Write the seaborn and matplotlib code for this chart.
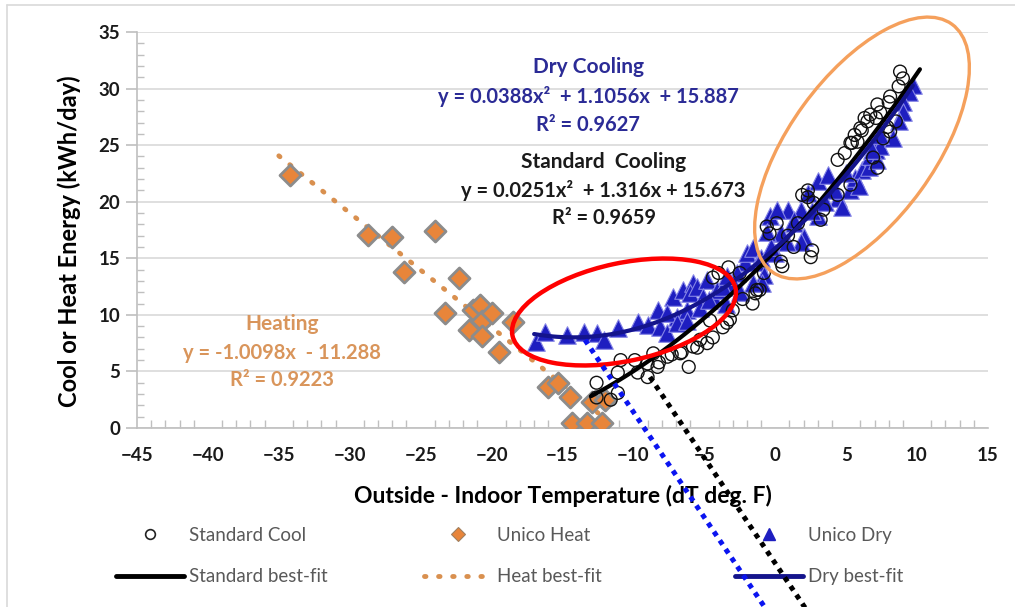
import numpy as np
import pandas as pd
import matplotlib
matplotlib.use("Agg")
import matplotlib.pyplot as plt
import seaborn as sns
from matplotlib.lines import Line2D
from matplotlib.patches import Ellipse
from matplotlib.transforms import Affine2D

# ---------------- data ----------------
heat_x = [-34.2, -28.7, -27.0, -26.2, -24.0, -23.3, -22.3, -21.6, -21.3, -20.8, -20.7, -20.7,
          -20.0, -19.5, -18.5, -16.0, -15.3, -14.5, -12.9, -12.0, -14.3, -13.3, -12.2]
heat_y = [22.4, 17.1, 16.9, 13.8, 17.4, 10.2, 13.3, 8.7, 10.4, 10.9, 9.5, 8.1,
          10.2, 6.7, 9.4, 3.6, 4.0, 2.7, 2.3, 2.5, 0.4, 0.4, 0.4]

cool_x = [-12.6, -11.6, -12.6, -11.1, -11.1, -10.9, -9.9, -9.7, -9.0, -9.0, -8.6, -8.2, -8.3,
          -7.6, -7.3, -6.7, -6.6, -6.1, -5.8, -5.5, -5.3, -4.8, -4.4, -4.6, -3.7, -3.2, -3.0,
          -3.4, -2.3, -1.4, -1.3, -0.8, -1.6, -1.1, -4.4, -4.0, -3.3, -2.5, -0.6, -0.4, 0.1,
          0.4, 0.5, 0.9, 1.3, 2.3, 2.6, 2.5, 2.7, 1.9, 2.3, 3.4, 4.4, 4.9, 5.4, 5.8, 6.1, 6.5,
          7.1, 7.4, 7.2, 6.9, 7.9, 4.4, 5.3, 3.2, 1.6, 8.8, 9.0, 8.7, 8.1, 8.0, 7.2, 6.7, 6.3,
          6.0, 5.6, 5.3, 8.5, 8.1, 7.6]
cool_y = [2.7, 2.5, 4.0, 3.1, 4.9, 6.0, 6.0, 4.9, 4.5, 5.7, 6.6, 5.8, 5.4,
          6.3, 6.5, 6.6, 6.7, 5.4, 7.2, 7.1, 7.8, 7.5, 8.0, 9.5, 8.9, 9.6, 10.4,
          9.3, 11.4, 11.9, 12.2, 13.7, 11.0, 12.2, 13.3, 13.7, 14.2, 13.7, 17.8, 17.2, 18.1,
          14.7, 14.3, 17.0, 16.0, 20.4, 15.7, 15.1, 19.9, 20.6, 21.0, 19.3, 23.7, 24.3, 25.2, 25.3, 26.3, 27.1,
          27.4, 27.9, 23.0, 23.9, 26.6, 20.6, 21.5, 18.4, 18.1, 31.5, 30.9, 30.2, 29.3, 28.8, 28.6, 27.7, 27.4,
          26.5, 25.9, 25.2, 27.1, 26.2, 25.6]

dry_x = [-16.9, -16.2, -14.7, -13.5, -12.6, -12.1, -11.1, -9.7, -9.0, -8.3, -8.1, -7.6, -7.2, -6.9,
         -6.5, -6.2, -5.8, -7.6, -6.9, -6.2, -6.0, -5.5, -4.8, -4.4, -4.1, -5.1, -5.3, -4.7, -2.1,
         -2.7, -3.0, -3.7, -3.4, -2.0, -1.6, -1.2, -0.8, -0.9, -1.6, 0.9, 1.3, 2.0, 1.8, 0.8, 0.4,
         2.3, -0.4, 0.1, -0.6, -2.5, -3.5, -1.0, 0.0, -0.3, 3.0, 3.7, 4.4, 4.7, 5.3, 5.6, 6.1,
         6.6, 6.7, 7.1, 7.2, 7.4, 3.0, 1.8, 1.3, 9.7, 9.4, 9.0, 9.0, 8.7, 8.3, 7.4, 6.8, 4.2,
         5.0, 3.5, 2.6, 5.9]
dry_y = [7.6, 8.5, 8.2, 8.5, 8.4, 7.8, 8.8, 9.4, 9.1, 10.4, 8.9, 8.4, 11.6, 9.8,
         12.2, 10.4, 12.8, 10.2, 9.3, 9.5, 11.9, 12.5, 13.1, 11.6, 12.2, 11.6, 10.6, 11.3, 14.7,
         13.7, 12.8, 12.5, 13.4, 15.5, 15.9, 14.7, 13.5, 12.8, 12.8, 19.3, 18.1, 16.9, 16.4, 16.4, 17.2,
         20.8, 18.7, 19.3, 17.3, 12.0, 11.0, 15.0, 15.5, 16.0, 21.8, 22.4, 20.3, 19.5, 21.0, 22.1, 22.8,
         23.1, 24.0, 24.6, 23.7, 24.9, 18.7, 19.3, 18.4, 30.3, 29.7, 28.8, 27.9, 27.1, 25.6, 25.9, 24.6, 21.0,
         22.5, 20.0, 19.2, 21.4]

# best-fit coefficients printed on the chart
std_coef = [0.0251, 1.316, 15.673]      # quadratic
dry_coef = [0.0388, 1.1056, 15.887]     # quadratic
heat_coef = [-1.0098, -11.288]          # linear
std_range = [-13.0, 10.2]
dry_range = [-17.0, 9.7]
heat_range = [-35.0, -12.5]

x_ticks = [-45, -40, -35, -30, -25, -20, -15, -10, -5, 0, 5, 10, 15]
y_ticks = [0, 5, 10, 15, 20, 25, 30, 35]

# ---------------- figure ----------------
W, H = 1015, 607
sns.set_theme(style="white")
plt.rcParams['font.family'] = ['Lato', 'DejaVu Sans']

fig = plt.figure(figsize=(W / 100, H / 100), dpi=100)
fig.patch.set_facecolor("white")
ax = fig.add_axes([137 / W, 1 - 428 / H, (988 - 137) / W, (428 - 32) / H])

ax.set_xlim(-45, 15)
ax.set_ylim(0, 35)
ax.set_xticks(x_ticks)
ax.set_yticks(y_ticks)
ax.set_xticks(np.arange(-45, 16, 1), minor=True)
ax.set_yticks(np.arange(0, 36, 1), minor=True)
ax.grid(axis="y", which="major", color="#D9D9D9", lw=1.2)
ax.grid(axis="x", visible=False)
ax.set_axisbelow(True)
for s in ["top", "right"]:
    ax.spines[s].set_visible(False)
for s in ["left", "bottom"]:
    ax.spines[s].set_color("#BFBFBF")
    ax.spines[s].set_linewidth(1.2)
ax.tick_params(axis="x", which="major", direction="inout", length=14, width=1.2, color="#BFBFBF",
               labelsize=13.5, pad=7)
ax.tick_params(axis="x", which="minor", direction="in", length=6, width=1, color="#BFBFBF", bottom=True)
ax.tick_params(axis="y", which="major", direction="out", length=8, width=1.2, color="#BFBFBF",
               labelsize=13.5, pad=4, left=True)
ax.tick_params(axis="y", which="minor", direction="in", length=5, width=1, color="#BFBFBF", left=True)
for lab in ax.get_xticklabels() + ax.get_yticklabels():
    lab.set_fontweight("bold")
    lab.set_color("#1a1a1a")

ax.set_xlabel("Outside - Indoor Temperature (dT deg. F)", fontsize=16.5, fontweight="bold",
              color="black", labelpad=15)
ax.set_ylabel("Cool or Heat Energy (kWh/day)", fontsize=17, fontweight="bold", color="black")
ax.yaxis.set_label_coords(-0.066, 0.472)

# ---------------- points ----------------
sns.scatterplot(x=dry_x, y=dry_y, marker="^", s=160, color="#1E1EC0", edgecolor="#8585E6",
                linewidth=0.8, ax=ax, legend=False, zorder=3)
sns.scatterplot(x=cool_x, y=cool_y, marker="o", s=85, facecolor="none", edgecolor="#111111",
                linewidth=1.0, ax=ax, legend=False, zorder=4)
sns.scatterplot(x=heat_x, y=heat_y, marker="D", s=115, color="#E8853A", edgecolor="#8C8C8C",
                linewidth=2.0, ax=ax, legend=False, zorder=3)

# ---------------- best-fit lines ----------------
xs_std = np.linspace(std_range[0], std_range[1], 100)
xs_dry = np.linspace(dry_range[0], dry_range[1], 100)
xs_heat = np.linspace(heat_range[0], heat_range[1], 100)
sns.lineplot(x=xs_std, y=np.polyval(std_coef, xs_std), color="black", lw=3, ax=ax,
             estimator=None, sort=False, zorder=6)
sns.lineplot(x=xs_dry, y=np.polyval(dry_coef, xs_dry), color="#14148C", lw=3, ax=ax,
             estimator=None, sort=False, zorder=6)
sns.lineplot(x=xs_heat, y=np.polyval(heat_coef, xs_heat), color="#D9904F", lw=3.5, ax=ax,
             estimator=None, sort=False, zorder=2)
ax.lines[-1].set_linestyle((0, (0.3, 2.6)))
ax.lines[-1].set_dash_capstyle("round")

# ---------------- equation annotations ----------------
navy = "#2B2B96"
tan = "#D9955B"
fs_t, fs_e = 15, 14.5
ax.text(-13.2, 31.9, "Dry Cooling", color=navy, fontsize=fs_t, fontweight="bold", ha="center", va="center")
ax.text(-13.2, 29.3, "y = 0.0388x²  + 1.1056x  + 15.887", color=navy, fontsize=fs_e,
        fontweight="bold", ha="center", va="center")
ax.text(-13.2, 26.8, "R² = 0.9627", color=navy, fontsize=fs_e, fontweight="bold", ha="center", va="center")
ax.text(-12.1, 23.5, "Standard  Cooling", color="#1a1a1a", fontsize=fs_t, fontweight="bold",
        ha="center", va="center")
ax.text(-12.1, 21.0, "y = 0.0251x²  + 1.316x + 15.673", color="#1a1a1a", fontsize=fs_e,
        fontweight="bold", ha="center", va="center")
ax.text(-12.1, 18.6, "R² = 0.9659", color="#1a1a1a", fontsize=fs_e, fontweight="bold",
        ha="center", va="center")
ax.text(-34.8, 9.2, "Heating", color=tan, fontsize=fs_t, fontweight="bold", ha="center", va="center")
ax.text(-34.8, 6.6, "y = -1.0098x  - 11.288", color=tan, fontsize=fs_e, fontweight="bold",
        ha="center", va="center")
ax.text(-34.8, 4.2, "R² = 0.9223", color=tan, fontsize=fs_e, fontweight="bold", ha="center", va="center")

# ---------------- callout shapes (image pixel coordinates) ----------------
tr = Affine2D().scale(1, -1).translate(0, H)
fig.add_artist(Ellipse((624, 312), 228, 98, angle=-12, transform=tr, fill=False,
                       edgecolor="#FF0000", lw=3.2, zorder=10))
fig.add_artist(Ellipse((862, 148), 306, 145, angle=-54, transform=tr, fill=False,
                       edgecolor="#F5A05C", lw=2.4, zorder=10))
fig.add_artist(Line2D([585, 776], [340, 624], transform=tr, color="#0A14F0", lw=3.6,
                      linestyle=(0, (1, 1.1)), zorder=11))
fig.add_artist(Line2D([650, 816], [377, 624], transform=tr, color="black", lw=3.6,
                      linestyle=(0, (1, 1.1)), zorder=11))

# chart-area border
fig.add_artist(Line2D([7, 7], [5, 640], transform=tr, color="#D9D9D9", lw=1.2))
fig.add_artist(Line2D([7, 1100], [5, 5], transform=tr, color="#D9D9D9", lw=1.2))

# ---------------- legend (3 columns x 2 rows) ----------------
leg_cols = [
    ([Line2D([], [], marker="o", ls="none", markersize=7, markerfacecolor="none",
             markeredgecolor="#222222", markeredgewidth=1.2),
      Line2D([], [], color="black", lw=3.5)],
     ["Standard Cool", "Standard best-fit"], 116),
    ([Line2D([], [], marker="D", ls="none", markersize=7, markerfacecolor="#E8853A",
             markeredgecolor="#A08060", markeredgewidth=0.8),
      Line2D([], [], color="#D9904F", lw=3.5, ls=(0, (0.3, 2.6)), dash_capstyle="round")],
     ["Unico Heat", "Heat best-fit"], 424),
    ([Line2D([], [], marker="^", ls="none", markersize=8, markerfacecolor="#1E1EC0",
             markeredgecolor="#1E1EC0"),
      Line2D([], [], color="#14148C", lw=3.5)],
     ["Unico Dry", "Dry best-fit"], 735),
]
for handles, labels, xpx in leg_cols:
    lg = fig.legend(handles, labels, loc="upper left", bbox_to_anchor=(xpx / W, 1 - 527 / H),
                    frameon=False, fontsize=13.5, handlelength=3.6, handletextpad=0.3,
                    labelspacing=1.3, borderpad=0, borderaxespad=0)
    for t in lg.get_texts():
        t.set_color("#595959")

fig.savefig("out.png", dpi=100, facecolor="white")
